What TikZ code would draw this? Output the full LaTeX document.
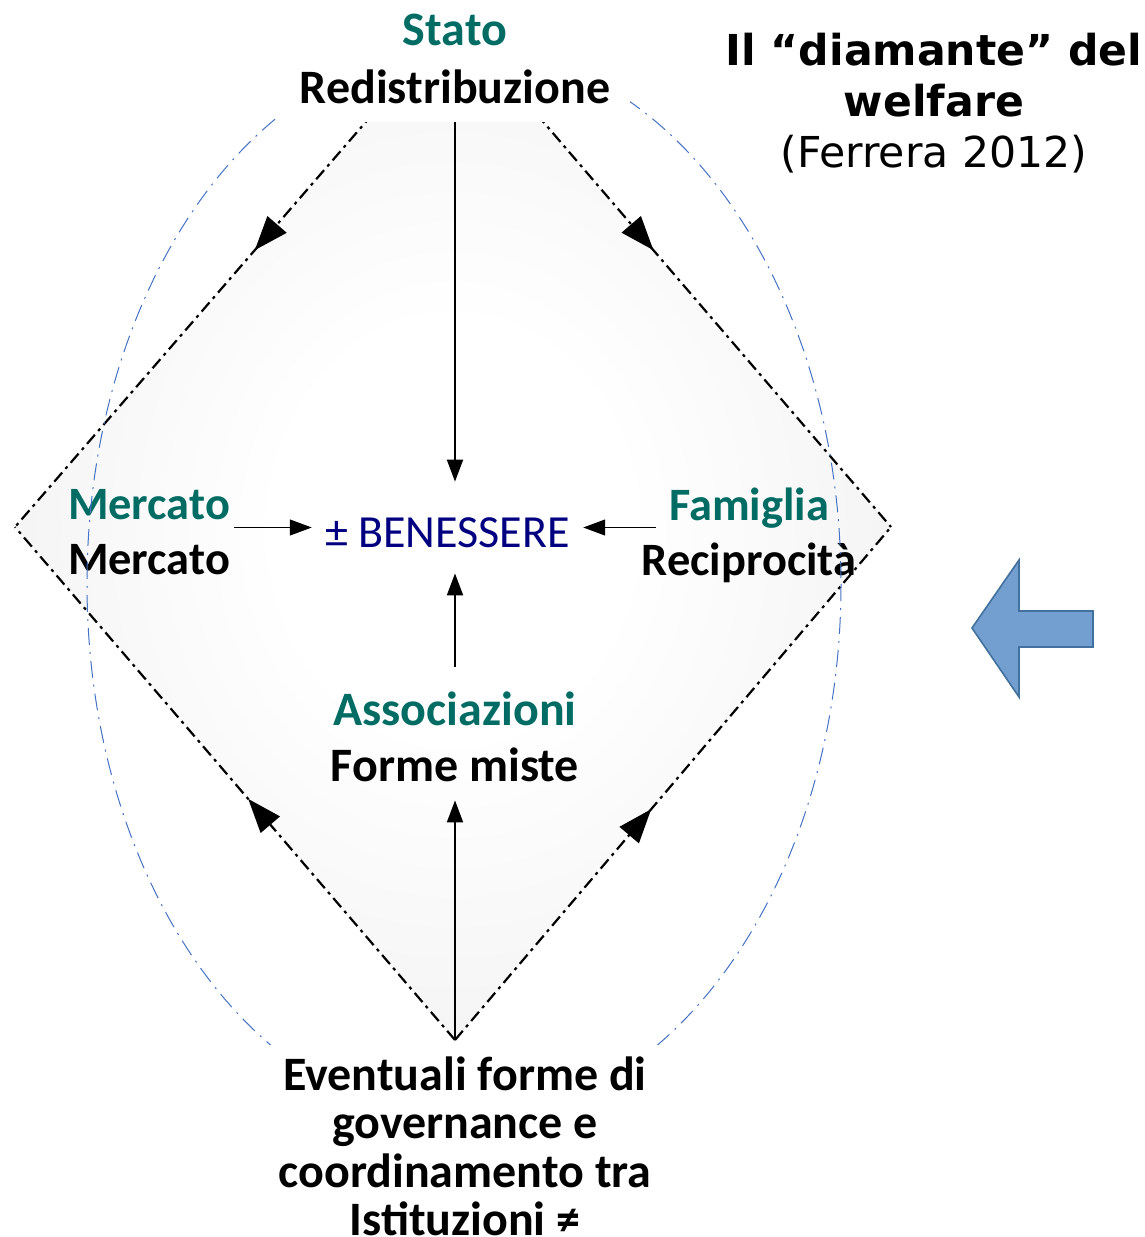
\documentclass[tikz,border=0pt]{standalone}
\usepackage{fontspec}
\setmainfont{Carlito}
\newfontfamily\titlefont{DejaVu Sans}
\usepackage{tikz}
\usetikzlibrary{arrows.meta,decorations.markings}
\tikzset{>/.tip={Triangle[length=11pt,width=8pt]}}
\definecolor{sector}{RGB}{0,108,100}
\definecolor{wellbeing}{RGB}{0,0,128}
\definecolor{outline}{RGB}{68,114,196}
\definecolor{arrowfill}{RGB}{114,159,207}
\definecolor{arrowline}{RGB}{65,113,156}
\pgfdeclareradialshading{diamondglow}{\pgfpoint{0bp}{0bp}}{color(0bp)=(white); color(10bp)=(white); color(36bp)=(black!7); color(100bp)=(black!7)}
\tikzset{
  actor/.style={font=\fontsize{23.2}{27.5}\selectfont\bfseries, align=center, inner sep=2pt},
  goal/.style={text=wellbeing, font=\fontsize{23}{27}\selectfont, text height=24pt, text depth=4.5pt, inner xsep=6.5pt, inner ysep=8.5pt},
  edgeline/.style={line width=1.1pt, dash pattern=on 6pt off 2.5pt on 1.5pt off 2.5pt},
  orbit/.style={outline, line width=0.5pt, dash pattern=on 8.5pt off 3.5pt on 1pt off 3.5pt},
  flow/.style={postaction={decorate}, decoration={markings, mark=at position #1 with {\arrow{Triangle[length=17pt,width=12.5pt]}}}}
}

\begin{document}
\begin{tikzpicture}[x=0.5pt,y=-0.5pt]
  \useasboundingbox (0,0) rectangle (1145,1237);

  \coordinate (T) at (455,19);
  \coordinate (L) at (15,527);
  \coordinate (R) at (891,527);
  \coordinate (B) at (455,1040);

  \shade[shading=diamondglow] (T) -- (R) -- (B) -- (L) -- cycle;
  \draw[edgeline, flow=.455] (T) -- (L);
  \draw[edgeline, flow=.455] (T) -- (R);
  \draw[edgeline, flow=.47] (B) -- (L);
  \draw[edgeline, flow=.45] (B) -- (R);

  \node[goal, anchor=base] (ben) at (447.5,547) {± BENESSERE};
  \node[actor] (merc) at (149,532) {\textcolor{sector}{Mercato}\\Mercato};
  \node[actor] (fam) at (749,535) {\textcolor{sector}{Famiglia}\\Reciprocità};
  \node[actor, inner ysep=12.5pt, font=\fontsize{24}{28}\selectfont\bfseries] (assoc) at (455,737) {\textcolor{sector}{Associazioni}\\Forme miste};

  \draw[orbit] (464,584) ellipse [x radius=377, y radius=537];

  \node[actor, fill=white, inner xsep=10pt, inner ysep=9pt, anchor=south, font=\fontsize{24}{29}\selectfont\bfseries] (stato) at (455,122) {\textcolor{sector}{Stato}\\Redistribuzione};
  \node[actor, fill=white, inner xsep=5pt, inner ysep=5.5pt, anchor=north, font=\fontsize{24}{24.3}\selectfont\bfseries] (gov) at (465,1045) {Eventuali forme di\\governance e\\coordinamento tra\\Istituzioni ≠};

  \draw[->, line width=1pt] (stato.south) -- (stato.south |- ben.north);
  \draw[->, line width=0.6pt] (merc.east |- ben.center) -- (ben.west);
  \draw[->, line width=0.6pt] ([xshift=9.5pt]fam.west |- ben.center) -- (ben.east);
  \draw[->, line width=1pt] (assoc.north) -- (assoc.north |- ben.south);
  \draw[->, line width=1pt, shorten >=-3.5pt] (B) -- (assoc.south);

  \node[font=\titlefont\fontsize{21.3}{25.5}\selectfont, align=center, inner sep=0pt] (title) at (934,103.5) {{\bfseries Il “diamante” del}\\{\bfseries welfare}\\(Ferrera 2012)};

  \draw[arrowline, fill=arrowfill, line width=0.8pt] (972,628) -- (1019,560) -- (1019,611) -- (1093,611) -- (1093,647) -- (1019,647) -- (1019,697) -- cycle;
\end{tikzpicture}
\end{document}
